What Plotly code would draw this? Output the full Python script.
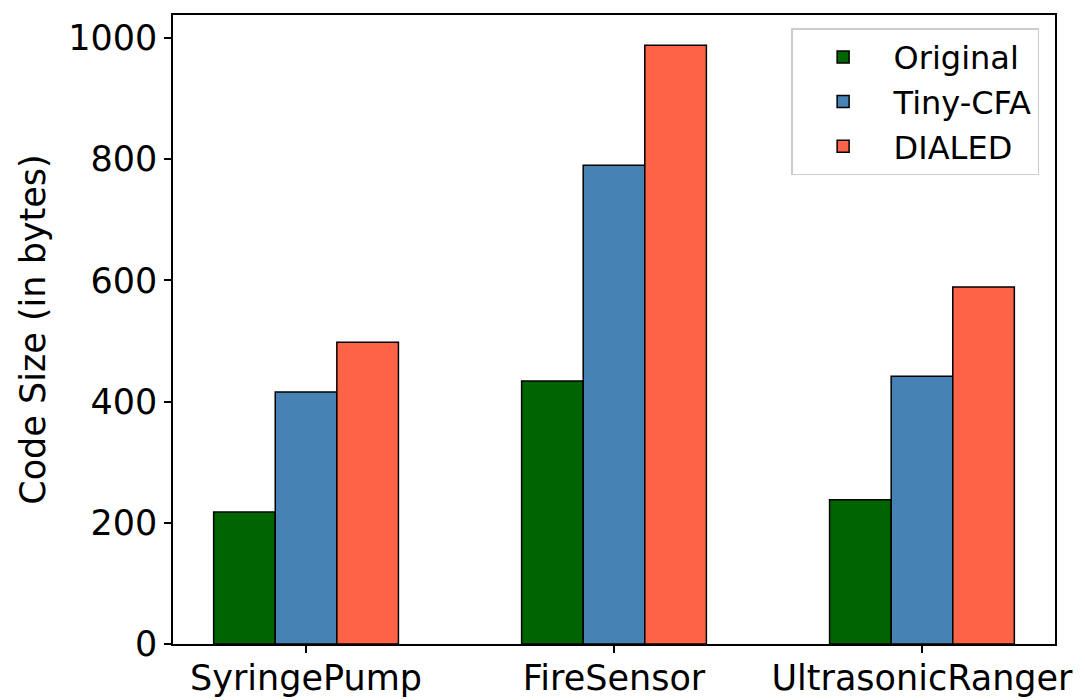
import plotly.graph_objects as go

categories = ["SyringePump", "FireSensor", "UltrasonicRanger"]
original = [218, 434, 238]
tiny_cfa = [416, 790, 442]
dialed = [498, 988, 589]
series_names = ["Original", "Tiny-CFA", "DIALED"]
colors = ["#006400", "#4682B4", "#FF6347"]
y_ticks = [0, 200, 400, 600, 800, 1000]

FONT = "DejaVu Sans"
TICK_FS = 35
TITLE_FS = 35
LEG_FS = 32

fig = go.Figure()
x_idx = list(range(len(categories)))
for name, vals, col, off in zip(series_names, [original, tiny_cfa, dialed], colors, [-0.2, 0.0, 0.2]):
    fig.add_trace(go.Bar(
        x=[i + off for i in x_idx], y=vals, name=name, width=0.2, legendgroup=name,
        marker=dict(color=col, line=dict(color="black", width=1.5)),
    ))

fig.update_layout(
    width=1077, height=692,
    margin=dict(l=165, r=30, t=7, b=56),
    plot_bgcolor="white", paper_bgcolor="white",
    font=dict(family=FONT, size=TICK_FS, color="black"),
    barmode="overlay",
    showlegend=True,
    legend=dict(
        x=0.982, y=0.979, xanchor="right", yanchor="top",
        bgcolor="rgba(255,255,255,0.8)", bordercolor="#cccccc", borderwidth=1.5,
        font=dict(family=FONT, size=LEG_FS), itemwidth=91, tracegroupgap=0,
    ),
    xaxis=dict(
        range=[-0.432, 2.432], tickmode="array", tickvals=x_idx, ticktext=categories,
        showgrid=False, zeroline=False, showline=True, linecolor="black", linewidth=1.5,
        mirror=True, ticks="outside", ticklen=7, tickwidth=1.5, tickcolor="black",
        tickfont=dict(family=FONT, size=TICK_FS), automargin=False,
        ticklabelstandoff=-5,
    ),
    yaxis=dict(
        range=[0, 1038], tickmode="array", tickvals=y_ticks,
        showgrid=False, zeroline=False, showline=True, linecolor="black", linewidth=1.5,
        mirror=True, ticks="outside", ticklen=7, tickwidth=1.5, tickcolor="black",
        tickfont=dict(family=FONT, size=TICK_FS), automargin=False,
        title=dict(text="Code Size (in bytes)", font=dict(family=FONT, size=TITLE_FS), standoff=12),
    ),
)

fig.write_html("out.html")
